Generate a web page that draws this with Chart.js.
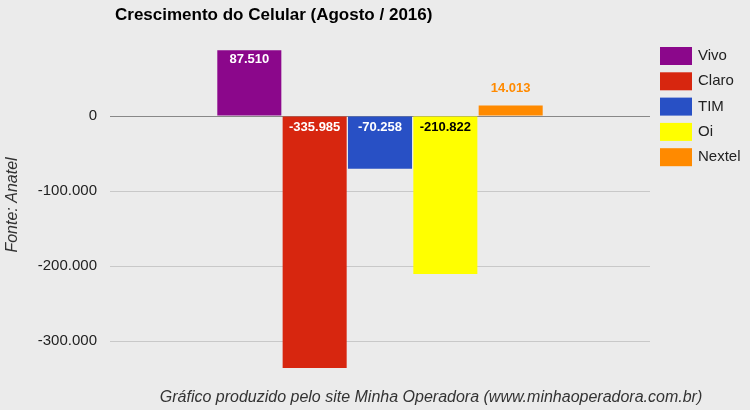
<!DOCTYPE html>
<html>
<head>
<meta charset="utf-8">
<script src="https://cdn.jsdelivr.net/npm/chart.js@4"></script>
<style>
  body { margin: 0; background: #ebebeb; }
  #wrap { width: 750px; height: 410px; }
</style>
</head>
<body>
<div id="wrap"><canvas id="grafico"></canvas></div>
<script>
// Dados
const categorias = ['Agosto 2016'];
const operadoras = ['Vivo', 'Claro', 'TIM', 'Oi', 'Nextel'];
const valores = [87510, -335985, -70258, -210822, 14013];
const cores = ['#8b078b', '#d7260f', '#2850c5', '#ffff00', '#ff8a00'];
const ticksY = [0, -100000, -200000, -300000];

const fmt = v => v.toLocaleString('pt-BR');

// Rótulos, título, legenda e textos dos eixos
const extras = {
  id: 'extras',
  afterDatasetsDraw(chart) {
    const ctx = chart.ctx;
    ctx.save();
    ctx.font = 'bold 13px Arial';
    ctx.textAlign = 'center';
    chart.data.datasets.forEach((ds, i) => {
      const bar = chart.getDatasetMeta(i).data[0];
      const v = ds.data[0];
      if (Math.abs(bar.base - bar.y) < 25) {
        ctx.fillStyle = cores[i];
        ctx.textBaseline = 'bottom';
        ctx.fillText(fmt(v), bar.x, bar.y - 11);
      } else {
        ctx.fillStyle = cores[i] === '#ffff00' ? '#000' : '#fff';
        ctx.textBaseline = 'middle';
        ctx.fillText(fmt(v), bar.x, v > 0 ? bar.y + 9 : bar.base + 11);
      }
    });

    // título
    ctx.textAlign = 'left';
    ctx.textBaseline = 'middle';
    ctx.fillStyle = '#000';
    ctx.font = 'bold 17px Arial';
    ctx.fillText('Crescimento do Celular (Agosto / 2016)', 115, 15);

    // legenda
    ctx.font = '15px Arial';
    operadoras.forEach((nome, i) => {
      const y = 47 + i * 25.3;
      ctx.fillStyle = cores[i];
      ctx.fillRect(660, y, 32, 18);
      ctx.fillStyle = '#222';
      ctx.fillText(nome, 698, y + 9);
    });

    // textos dos eixos
    ctx.fillStyle = '#333';
    ctx.font = 'italic 16px Arial';
    ctx.textAlign = 'center';
    ctx.fillText('Gráfico produzido pelo site Minha Operadora (www.minhaoperadora.com.br)', 431, 398);
    ctx.translate(13, 205);
    ctx.rotate(-Math.PI / 2);
    ctx.fillText('Fonte: Anatel', 0, 0);
    ctx.restore();
  }
};

new Chart(document.getElementById('grafico'), {
  type: 'bar',
  data: {
    labels: categorias,
    datasets: operadoras.map((nome, i) => ({
      label: nome,
      data: [valores[i]],
      backgroundColor: cores[i],
      categoryPercentage: 0.605,
      barPercentage: 0.98
    }))
  },
  options: {
    responsive: true,
    maintainAspectRatio: false,
    animation: false,
    layout: { padding: { left: 0, right: 100, top: 41, bottom: 39 } },
    plugins: {
      legend: { display: false },
      tooltip: { enabled: false }
    },
    scales: {
      x: {
        ticks: { display: false },
        grid: { display: false },
        border: { display: false },
        afterFit: axis => { axis.height = 0; }
      },
      y: {
        min: -340000,
        max: 100000,
        afterBuildTicks: axis => { axis.ticks = ticksY.map(v => ({ value: v })); },
        afterFit: axis => { axis.width = 110; },
        ticks: {
          color: '#222',
          font: { family: 'Arial', size: 15 },
          padding: 13,
          callback: v => fmt(v)
        },
        grid: {
          color: ctx => ctx.tick && ctx.tick.value === 0 ? '#888' : '#c8c8c8',
          drawTicks: false
        },
        border: { display: false }
      }
    }
  },
  plugins: [extras]
});
</script>
</body>
</html>
